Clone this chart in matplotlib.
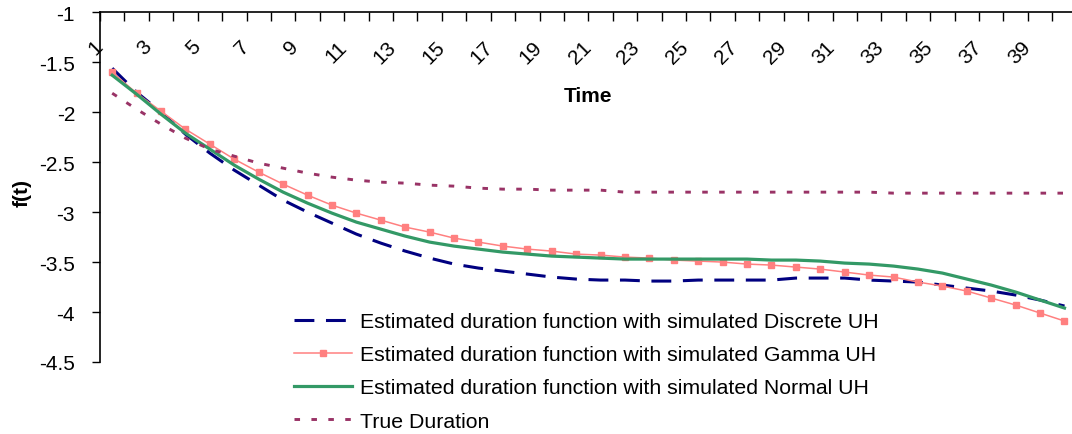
import matplotlib
matplotlib.use("Agg")
import matplotlib.pyplot as plt
import numpy as np

plt.rcParams['font.family'] = ['Liberation Sans', 'DejaVu Sans']

time = list(range(1, 41))
tick_labels = [str(t) for t in range(1, 41, 2)]

discrete = [-1.56, -1.80, -2.00, -2.22, -2.41, -2.58, -2.73, -2.88, -3.00, -3.11,
            -3.22, -3.31, -3.39, -3.46, -3.52, -3.56, -3.59, -3.62, -3.65, -3.67,
            -3.68, -3.68, -3.69, -3.69, -3.68, -3.68, -3.68, -3.68, -3.66, -3.66,
            -3.66, -3.68, -3.69, -3.70, -3.73, -3.76, -3.79, -3.83, -3.88, -3.94]
gamma = [-1.60, -1.81, -1.99, -2.17, -2.32, -2.47, -2.60, -2.72, -2.83, -2.93,
         -3.01, -3.08, -3.15, -3.20, -3.26, -3.30, -3.34, -3.37, -3.39, -3.42,
         -3.43, -3.45, -3.46, -3.48, -3.49, -3.50, -3.52, -3.53, -3.55, -3.57,
         -3.60, -3.63, -3.65, -3.70, -3.74, -3.79, -3.86, -3.93, -4.01, -4.09]
normal = [-1.63, -1.82, -2.02, -2.21, -2.37, -2.53, -2.67, -2.80, -2.91, -3.01,
          -3.10, -3.17, -3.24, -3.30, -3.34, -3.37, -3.40, -3.42, -3.44, -3.45,
          -3.46, -3.47, -3.47, -3.47, -3.47, -3.47, -3.47, -3.48, -3.48, -3.49,
          -3.51, -3.52, -3.54, -3.57, -3.61, -3.67, -3.73, -3.80, -3.88, -3.96]
true_dur = [-1.81, -1.97, -2.12, -2.26, -2.37, -2.44, -2.51, -2.56, -2.61, -2.65,
            -2.68, -2.70, -2.71, -2.73, -2.74, -2.76, -2.77, -2.77, -2.78, -2.78,
            -2.78, -2.80, -2.80, -2.80, -2.80, -2.80, -2.80, -2.80, -2.80, -2.80,
            -2.80, -2.80, -2.81, -2.81, -2.81, -2.81, -2.81, -2.81, -2.81, -2.81]

labels = ["Estimated duration function with simulated Discrete UH",
          "Estimated duration function with simulated Gamma UH",
          "Estimated duration function with simulated Normal UH",
          "True Duration"]

W, H = 1072, 435
fig = plt.figure(figsize=(W / 100, H / 100), dpi=100)
left_px, right_px, top_px, bot_px = 100, 1076.7, 13.3, 363
ax = fig.add_axes([left_px / W, 1 - bot_px / H, (right_px - left_px) / W, (bot_px - top_px) / H])

l1, = ax.plot(time, discrete, color='#000080', lw=2.2, dashes=(6.5, 3.8), solid_capstyle='butt')
l2, = ax.plot(time, gamma, color='#FF8080', lw=1.1, marker='s', markersize=4.3,
              markerfacecolor='#FF8080', markeredgecolor='#FF8080')
l3, = ax.plot(time, normal, color='#339966', lw=2.3)
l4, = ax.plot(time, true_dur, color='#993366', lw=2.1, dashes=(1.9, 3.9))

ax.set_xlim(0.5, 40.5)
ax.set_ylim(-4.5, -1)
ax.set_yticks(np.arange(-4.5, -0.99, 0.5))
ax.set_yticklabels([('%g' % v) for v in np.arange(-4.5, -0.99, 0.5)], fontsize=15)
ax.tick_params(axis='y', direction='out', length=6, width=1, pad=12)

for s in ['right', 'bottom']:
    ax.spines[s].set_visible(False)
for s in ['left', 'top']:
    ax.spines[s].set_linewidth(1.2)

# category boundary ticks on top axis
ax.xaxis.set_ticks_position('top')
ax.set_xticks(np.arange(0.5, 41, 1.0))
ax.set_xticklabels([])
ax.tick_params(axis='x', direction='in', length=6.5, width=1, top=True, bottom=False,
               labeltop=False, labelbottom=False)

for lab in tick_labels:
    ax.annotate(lab, xy=(int(lab), 1), xycoords=('data', 'axes fraction'),
                xytext=(-9, -22.3), textcoords='offset points', rotation=45,
                rotation_mode='anchor', ha='right', va='center', fontsize=15)

fig.text(587.7 / W, 1 - 96 / H, "Time", ha='center', va='center', fontsize=15, fontweight='bold')
fig.text(21.7 / W, 1 - 193 / H, "f(t)", ha='center', va='center', rotation=90,
         fontsize=15, fontweight='bold')

leg = fig.legend([l1, l2, l3, l4], labels, loc='upper left',
                 bbox_to_anchor=(294 / W, 1 - 313 / H), frameon=False, fontsize=15.3,
                 handlelength=2.75, handletextpad=0.35, labelspacing=0.67,
                 borderpad=0, borderaxespad=0)

fig.savefig("out.png", dpi=100)
